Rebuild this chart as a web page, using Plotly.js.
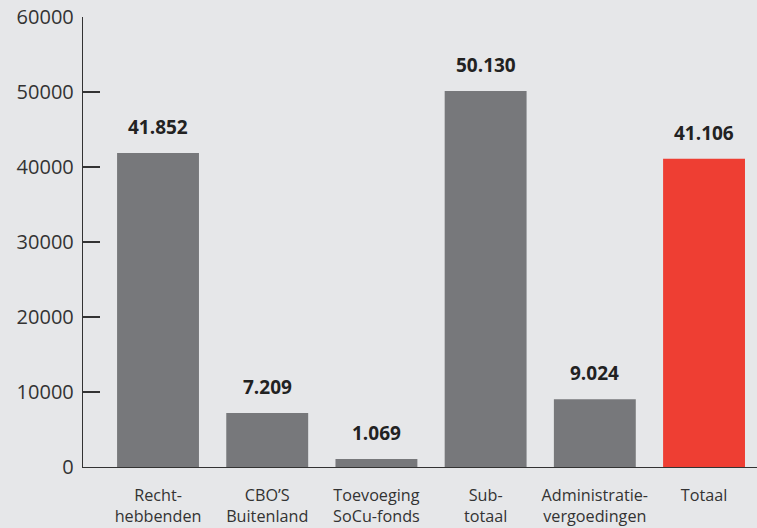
<!DOCTYPE html>
<html>
<head>
<meta charset="utf-8">
<script src="https://cdn.plot.ly/plotly-3.0.1.min.js"></script>
<style>html,body{margin:0;padding:0;background:#e6e7e9;}#chart{width:757px;height:528px;}</style>
</head>
<body>
<div id="chart"></div>
<script>
const categories = ["Recht-<br>hebbenden", "CBO’S<br>Buitenland", "Toevoeging<br>SoCu-fonds", "Sub-<br>totaal", "Administratie-<br>vergoedingen", "Totaal"];
const values = [41852, 7209, 1069, 50130, 9024, 41106];
const valueLabels = ["41.852", "7.209", "1.069", "50.130", "9.024", "41.106"];
const barColors = ["#77787b", "#77787b", "#77787b", "#77787b", "#77787b", "#ee3e33"];
const yTicks = [0, 10000, 20000, 30000, 40000, 50000, 60000];

const trace = {
  type: "bar",
  x: categories.map((c, i) => i),
  y: values,
  marker: {color: barColors},
  width: 0.75,
  hoverinfo: "none"
};

const annotations = values.map((v, i) => ({
  x: i, y: v, xref: "x", yref: "y",
  text: "<b>" + valueLabels[i] + "</b>",
  showarrow: false, yanchor: "bottom", yshift: 11,
  font: {family: "Open Sans, sans-serif", size: 19, color: "#222"}
}));

const layout = {
  width: 757, height: 528,
  margin: {l: 83, r: 0, t: 17, b: 61},
  paper_bgcolor: "#e6e7e9",
  plot_bgcolor: "#e6e7e9",
  showlegend: false,
  font: {family: "Open Sans, sans-serif", color: "#333"},
  xaxis: {
    range: [-0.687, 5.485],
    tickmode: "array",
    tickvals: categories.map((c, i) => i),
    ticktext: categories,
    showline: true, linecolor: "#333", linewidth: 1.2,
    ticks: "", showgrid: false, zeroline: false,
    tickfont: {size: 16.2, color: "#333"},
    ticklabelstandoff: 13,
    fixedrange: true
  },
  yaxis: {
    range: [0, 60000],
    tickmode: "array",
    tickvals: yTicks,
    ticktext: yTicks.map(String),
    showline: true, linecolor: "#333", linewidth: 1.2,
    ticks: "inside", ticklen: 17, tickcolor: "#333", tickwidth: 1.2,
    showgrid: false, zeroline: false,
    tickfont: {size: 20, color: "#333"},
    ticklabelstandoff: 4,
    fixedrange: true
  },
  annotations: annotations
};

Plotly.newPlot("chart", [trace], layout, {displayModeBar: false, staticPlot: true});
</script>
</body>
</html>
